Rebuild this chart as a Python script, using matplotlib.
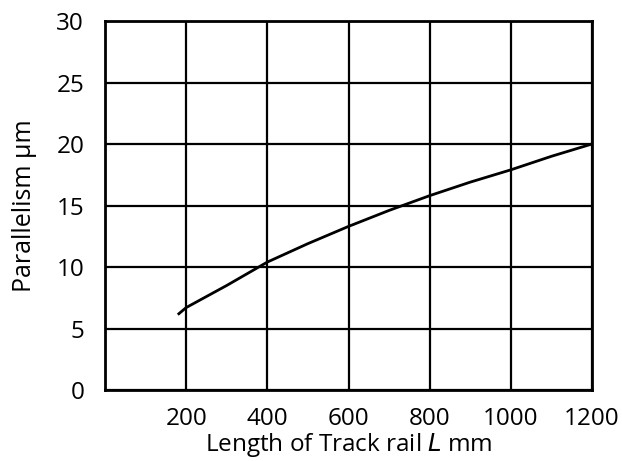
import matplotlib
matplotlib.use("Agg")
import matplotlib.pyplot as plt

# curve
length_mm = [182, 200, 300, 400, 500, 600, 700, 800, 900, 1000, 1100, 1200]
parallelism_um = [6.2, 6.7, 8.5, 10.4, 11.9, 13.3, 14.6, 15.8, 16.9, 17.9, 19.0, 20.0]

x_ticks = [200, 400, 600, 800, 1000, 1200]
y_ticks = [0, 5, 10, 15, 20, 25, 30]

plt.rcParams['font.family'] = ['Open Sans', 'DejaVu Sans']

fig = plt.figure(figsize=(6.22, 4.61), dpi=100)
ax = fig.add_axes([105 / 622, 1 - 390 / 461, (592 - 105) / 622, (390 - 21) / 461])

ax.plot(length_mm, parallelism_um, color='black', lw=2.0, zorder=3)

ax.set_xlim(0, 1200)
ax.set_ylim(0, 30)
ax.set_xticks(x_ticks)
ax.set_yticks(y_ticks)
ax.grid(True, color='black', lw=1.6)
ax.set_axisbelow(True)
for s in ax.spines.values():
    s.set_linewidth(2.0)

ax.tick_params(axis='both', length=0, labelsize=17.5)
ax.tick_params(axis='y', pad=15)
ax.tick_params(axis='x', pad=12)

ax.set_ylabel('Parallelism µm', fontsize=18, labelpad=14)
ax.set_xlabel('Length of Track rail $\\mathit{L}$ mm', fontsize=17.5, labelpad=0.5)

fig.savefig('out.png', dpi=100)
